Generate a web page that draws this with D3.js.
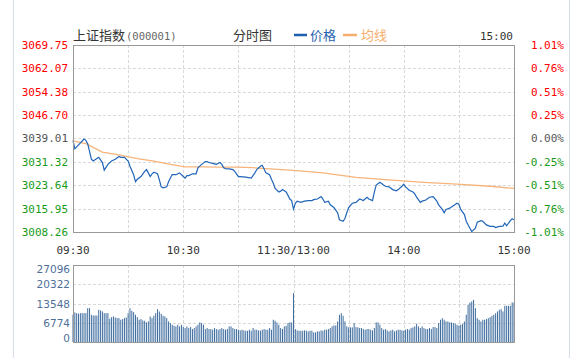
<!DOCTYPE html>
<html><head><meta charset="utf-8">
<script src="https://cdn.jsdelivr.net/npm/d3@7"></script>
<style>body{margin:0;background:#fff;}svg{display:block;}</style>
</head><body>
<svg id="c" width="580" height="358"></svg>
<script>
// ---- data ----
const priceTicks = [3069.75, 3062.07, 3054.38, 3046.70, 3039.01, 3031.32, 3023.64, 3015.95, 3008.26];
const pctTicks = ["1.01%", "0.76%", "0.51%", "0.25%", "0.00%", "-0.25%", "-0.51%", "-0.76%", "-1.01%"];
const volTicks = [0, 6774, 13548, 20322, 27096];
const timeLabels = ["09:30", "10:30", "11:30/13:00", "14:00", "15:00"];
const timeLabelIdx = [0, 60, 120, 180, 240];
const prevClose = 3039.01;

const priceIdx = [0,1,6,7,8,10,11,13,14,16,17,19,21,23,25,26,28,30,31,33,34,35,37,39,40,41,42,43,44,46,47,48,49,51,52,53,54,56,58,60,61,62,63,65,67,68,70,72,73,74,76,78,80,81,82,83,85,87,88,90,91,94,97,99,100,102,103,104,105,107,108,109,110,112,113,114,116,117,118,119,120,
121,122,124,126,128,130,131,133,135,136,137,139,140,142,144,145,147,148,149,150,152,154,156,158,160,161,163,164,165,167,169,170,172,174,176,177,179,180,181,183,185,186,187,189,190,192,194,196,198,199,201,202,203,205,207,209,210,211,213,214,216,217,219,220,222,223,225,227,229,230,232,234,235,236,238,239,240];
const priceVal = [3038.4,3035.6,3038.8,3038.4,3037.3,3032.2,3031.6,3032.4,3032.8,3031.1,3028.6,3030.5,3031.6,3032.2,3033.1,3032.8,3032.8,3031.6,3029.9,3027.1,3024.8,3025.6,3026.5,3028.2,3028.8,3027.7,3026.5,3027.4,3027.9,3027.4,3025.4,3023.1,3022.8,3023.1,3024.8,3026.0,3027.1,3027.1,3027.7,3026.5,3026.0,3026.8,3026.8,3027.4,3027.4,3029.4,3030.5,3031.4,3031.4,3031.1,3030.8,3030.5,3031.1,3030.5,3029.4,3029.1,3029.0,3028.8,3028.2,3026.5,3026.5,3026.3,3026.0,3027.7,3028.8,3029.9,3030.2,3029.0,3027.7,3027.1,3025.6,3024.3,3022.6,3021.4,3021.7,3022.2,3021.4,3020.3,3019.1,3018.6,3015.8,
3017.7,3018.4,3018.0,3018.4,3018.6,3018.6,3018.9,3019.1,3019.9,3019.1,3018.0,3018.4,3017.2,3016.3,3014.6,3012.3,3011.8,3012.7,3014.6,3016.3,3017.7,3018.0,3019.1,3018.6,3019.7,3019.1,3018.6,3021.4,3023.7,3024.6,3023.7,3023.3,3023.1,3022.2,3021.8,3022.2,3023.3,3024.0,3023.1,3022.0,3021.4,3020.8,3019.7,3018.0,3018.4,3018.8,3019.7,3019.9,3018.4,3017.2,3015.7,3014.6,3015.7,3016.1,3016.9,3017.7,3017.4,3015.7,3014.0,3011.8,3009.5,3008.4,3009.5,3011.5,3012.0,3011.8,3010.6,3010.1,3010.1,3009.7,3010.1,3010.2,3011.2,3010.3,3012.0,3012.6,3012.3];

const avgIdx = [0,7,16,25,35,44,53,61,71,80,89,98,107,120,136,154,172,191,209,227,240];
const avgVal = [3038.2,3037.3,3034.5,3033.6,3032.4,3031.6,3030.5,3029.7,3029.7,3029.6,3029.6,3029.4,3029.0,3028.5,3027.7,3026.2,3025.4,3024.6,3024.0,3023.3,3022.6];

const volumes = [9580,10400,10160,9930,10160,10160,10160,10160,11910,11910,9580,9340,9340,9340,11330,11100,10750,10160,10160,10160,
8180,8760,9000,8640,8410,8410,7830,8060,8410,8640,10160,11910,10980,10510,9580,8760,7830,8060,7590,7480,
6890,7240,9000,8410,9230,10160,11560,10750,9930,9230,9000,8410,7240,6660,6070,5720,5490,6070,5490,6070,
5260,4910,5490,4910,5260,4560,4910,5490,6070,6890,6660,6070,4560,4910,4560,4560,4320,4910,4560,4320,
4560,4910,4560,4320,4560,5490,5490,4910,4560,4560,4320,4090,4320,4090,3970,3970,4320,3970,4910,4320,
4320,4090,3970,4320,4560,4320,4320,4910,4320,7830,7480,6890,6070,4910,4560,5490,5720,6660,6890,6890,
17170,4560,4090,3970,3970,3970,4090,3970,3740,3970,3970,3390,3390,3740,3740,4090,3970,4320,4320,4560,
4910,5490,5840,5840,7240,9580,10160,9230,7240,5490,5140,5140,5140,6660,5260,5140,4910,4910,4560,4320,
4560,4560,4320,4090,4910,6890,6890,6070,4910,4320,4560,4090,3740,4090,4320,3740,4090,4320,4320,4090,
3970,4320,4560,4320,4910,5140,5490,6420,5490,4910,5490,4910,4560,4560,4910,4560,5260,5260,4910,6660,
7830,8410,7830,7240,7240,6890,6890,6660,6420,6070,5720,6070,6420,7240,9580,13080,13900,14250,14830,11910,
8410,7830,7240,7830,7830,8060,8410,8760,9230,9580,10160,10750,11330,11560,10750,12730,12730,12730,12730,13900,13900];

// ---- chart ----
const svg = d3.select("#c");
const L = 73, R = 514, T = 45, B = 232, VT = 265, VB = 342;
const x = d3.scaleLinear().domain([0, 240]).range([L, R]);
const y = d3.scaleLinear().domain([priceTicks[8], priceTicks[0]]).range([B, T]);
const yv = d3.scaleLinear().domain([0, 27096]).range([VB, VT]);
const mono = "'DejaVu Sans Mono', monospace";
const cjk = "'Noto Sans CJK SC', sans-serif";

// outer borders
svg.append("line").attr("x1", 13.5).attr("x2", 13.5).attr("y1", 0).attr("y2", 358).attr("stroke", "#d6deea");
svg.append("line").attr("x1", 569.5).attr("x2", 569.5).attr("y1", 0).attr("y2", 358).attr("stroke", "#d6deea");

// header
svg.append("text").attr("x", 73).attr("y", 40).attr("font-family", cjk).attr("font-size", 13).attr("fill", "#333").text("上证指数");
svg.append("text").attr("x", 126).attr("y", 40).attr("font-family", mono).attr("font-size", 10.5).attr("fill", "#666").text("(000001)");
svg.append("text").attr("x", 233).attr("y", 40).attr("font-family", cjk).attr("font-size", 13).attr("fill", "#333").text("分时图");
svg.append("line").attr("x1", 294).attr("x2", 307).attr("y1", 35).attr("y2", 35).attr("stroke", "#1f5fae").attr("stroke-width", 2.5);
svg.append("text").attr("x", 310).attr("y", 40).attr("font-family", cjk).attr("font-size", 13).attr("fill", "#1f5fae").text("价格");
svg.append("line").attr("x1", 343).attr("x2", 357).attr("y1", 35).attr("y2", 35).attr("stroke", "#f7ae6c").attr("stroke-width", 2.5);
svg.append("text").attr("x", 361).attr("y", 40).attr("font-family", cjk).attr("font-size", 13).attr("fill", "#f7ae6c").text("均线");
svg.append("text").attr("x", 513).attr("y", 40).attr("text-anchor", "end").attr("font-family", mono).attr("font-size", 11).attr("fill", "#333").text("15:00");

// grids
const gridV = d3.range(1, 8).map(i => i * 30);
function dash(sel) { return sel.attr("stroke", "#d9d9d9").attr("stroke-dasharray", "3,2").attr("shape-rendering", "crispEdges"); }
dash(svg.selectAll(".gh").data(priceTicks.slice(1, 8)).join("line")
  .attr("x1", L).attr("x2", R).attr("y1", d => Math.round(y(d)) + 0.5).attr("y2", d => Math.round(y(d)) + 0.5));
dash(svg.selectAll(".gv").data(gridV).join("line")
  .attr("x1", d => Math.round(x(d)) + 0.5).attr("x2", d => Math.round(x(d)) + 0.5).attr("y1", T).attr("y2", B));
dash(svg.selectAll(".vh").data(volTicks.slice(1, 4)).join("line")
  .attr("x1", L).attr("x2", R).attr("y1", d => Math.round(yv(d)) + 0.5).attr("y2", d => Math.round(yv(d)) + 0.5));
dash(svg.selectAll(".vv").data(gridV).join("line")
  .attr("x1", d => Math.round(x(d)) + 0.5).attr("x2", d => Math.round(x(d)) + 0.5).attr("y1", VT).attr("y2", VB));

// left price labels
svg.selectAll(".pl").data(priceTicks).join("text")
  .attr("x", 68).attr("y", d => y(d) + 4).attr("text-anchor", "end")
  .attr("font-family", mono).attr("font-size", 11)
  .attr("fill", d => d > prevClose + 0.01 ? "#f00" : (d < prevClose - 0.01 ? "#1a9a1a" : "#555"))
  .text(d => d.toFixed(2));
// right pct labels
svg.selectAll(".pr").data(pctTicks).join("text")
  .attr("x", 564).attr("y", (d, i) => y(priceTicks[i]) + 4).attr("text-anchor", "end")
  .attr("font-family", mono).attr("font-size", 11)
  .attr("fill", d => d === "0.00%" ? "#555" : (d[0] === "-" ? "#1a9a1a" : "#f00"))
  .text(d => d);

// time labels
svg.selectAll(".tl").data(timeLabels).join("text")
  .attr("x", (d, i) => x(timeLabelIdx[i])).attr("y", 254).attr("text-anchor", "middle")
  .attr("font-family", mono).attr("font-size", 11).attr("fill", "#333").text(d => d);

// volume labels
svg.selectAll(".vl").data(volTicks).join("text")
  .attr("x", 70).attr("y", d => Math.min(Math.max(yv(d) + 4, VT + 8), VB)).attr("text-anchor", "end")
  .attr("font-family", "'DejaVu Sans', sans-serif").attr("font-size", 10.5).attr("fill", "#4f6f98")
  .text(d => d);

// volume bars
svg.selectAll(".vb").data(volumes).join("rect")
  .attr("x", (d, i) => x(i) - 0.5).attr("width", 1)
  .attr("y", d => yv(d)).attr("height", d => VB - yv(d))
  .attr("fill", "#3f6d9f");

// lines
const line = d3.line().x(d => x(d[0])).y(d => y(d[1]));
svg.append("path").datum(avgIdx.map((d, i) => [d, avgVal[i]]))
  .attr("d", line).attr("fill", "none").attr("stroke", "#f7b47a").attr("stroke-width", 1.3);
svg.append("path").datum(priceIdx.map((d, i) => [d, priceVal[i]]))
  .attr("d", line).attr("fill", "none").attr("stroke", "#2166b8").attr("stroke-width", 1.2);

// frames
svg.append("rect").attr("x", L + 0.5).attr("y", T + 0.5).attr("width", R - L).attr("height", B - T)
  .attr("fill", "none").attr("stroke", "#999");
svg.append("rect").attr("x", L + 0.5).attr("y", VT + 0.5).attr("width", R - L).attr("height", VB - VT)
  .attr("fill", "none").attr("stroke", "#999");
</script>
</body></html>
